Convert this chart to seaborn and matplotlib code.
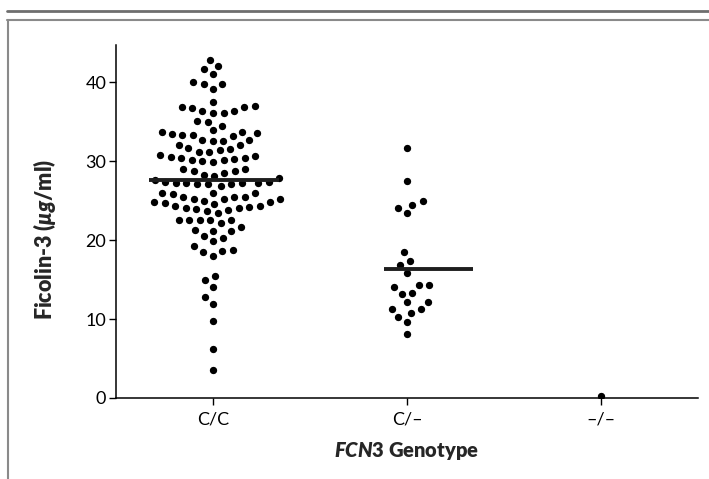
import numpy as np
import pandas as pd
import matplotlib
matplotlib.use("Agg")
import matplotlib.pyplot as plt
from matplotlib.lines import Line2D
import seaborn as sns

# ---------------- data ----------------
genotypes = ["C/C", "C/\u2013", "\u2013/\u2013"]

cc_values = [
    42.8, 42.1, 41.7, 41.0, 40.0, 39.7, 39.7, 39.1,
    37.5, 37.0, 36.9, 36.8, 36.7, 36.4, 36.3, 36.1, 36.1,
    35.1, 35.0, 34.5,
    33.9, 33.7, 33.7, 33.5, 33.4, 33.3, 33.3, 33.2,
    32.7, 32.7, 32.6, 32.6, 32.1, 32.1,
    31.6, 31.5, 31.4, 31.2, 31.1,
    30.8, 30.7, 30.5, 30.4, 30.4, 30.3, 30.2, 30.1, 30.0, 29.9,
    29.0, 29.0, 28.8, 28.8, 28.5, 28.3, 28.1, 27.9,
    27.6, 27.4, 27.4, 27.2, 27.2, 27.2, 27.2, 27.1, 27.1, 27.1, 26.9,
    26.0, 26.0, 26.0, 25.8, 25.5, 25.5, 25.4, 25.2, 25.2, 25.2, 25.0,
    24.8, 24.8, 24.7, 24.6, 24.3, 24.3, 24.2, 24.1, 24.1, 23.9, 23.8,
    23.7, 23.4,
    22.6, 22.5, 22.5, 22.5, 22.5, 22.1, 21.7, 21.3, 21.2, 21.1,
    20.5, 20.3, 19.9, 19.2, 18.8, 18.6, 18.5, 18.0,
    15.4, 14.9, 14.0, 12.8, 11.9, 9.7, 6.2, 3.6,
]
cn_values = [
    31.6, 27.5, 24.9, 24.5, 24.1, 23.4,
    18.5, 17.4, 16.8, 15.8, 14.3, 14.3, 14.1, 13.3, 13.2,
    12.2, 12.1, 11.3, 11.3, 10.8, 10.2, 9.6, 8.1,
]
nn_values = [0.2]

medians = [27.6, 16.3]
median_extent = [(-0.33, 0.34), (-0.12, 0.34)]

y_ticks = [0, 10, 20, 30, 40]

df = pd.DataFrame({
    "genotype": [genotypes[0]] * len(cc_values)
                + [genotypes[1]] * len(cn_values)
                + [genotypes[2]] * len(nn_values),
    "value": cc_values + cn_values + nn_values,
})

# ---------------- styling ----------------
sns.set_style("white")
plt.rcParams["font.family"] = ["Lato", "DejaVu Sans"]
plt.rcParams["mathtext.fontset"] = "custom"
plt.rcParams["mathtext.it"] = "Lato:style=italic:weight=heavy"
plt.rcParams["mathtext.rm"] = "Lato:weight=heavy"
plt.rcParams["mathtext.bf"] = "Lato:weight=heavy"

fig = plt.figure(figsize=(7.09, 4.79), dpi=100)
ax = fig.add_axes([116 / 709, 1 - 398 / 479, 582 / 709, 353 / 479])

sns.swarmplot(
    data=df, x="genotype", y="value", order=genotypes,
    color="black", size=6.3, linewidth=1.0, edgecolor="white",
    ax=ax, zorder=2, warn_thresh=1.0,
)

for i, (m, (a, b)) in enumerate(zip(medians, median_extent)):
    ax.hlines(m, i + a, i + b, colors="#1e1e1e", linewidth=2.8, zorder=4)

ax.set_xlim(-0.5, 2.5)
ax.set_ylim(0, 44.7)
ax.set_yticks(y_ticks)
ax.set_yticklabels([str(t) for t in y_ticks])

for s in ["top", "right"]:
    ax.spines[s].set_visible(False)
for s in ["left", "bottom"]:
    ax.spines[s].set_linewidth(1.1)
    ax.spines[s].set_color("black")

ax.tick_params(axis="both", direction="out", length=5, width=1.0,
               colors="black", labelsize=13, left=True, bottom=True)
ax.tick_params(axis="y", pad=2)
ax.tick_params(axis="x", pad=5)

ax.set_xlabel(r"$\mathit{FCN3}$ Genotype", fontsize=14.5, fontweight="heavy")
ax.set_ylabel(r"Ficolin-3 ($\mathit{\mu g}$/ml)", fontsize=15.5, fontweight="heavy")
ax.xaxis.set_label_coords(0.5, -0.118)
ax.yaxis.set_label_coords(-0.100, 0.45)

# figure frame lines (journal style)
fig.add_artist(Line2D([7 / 709, 1], [1 - 11 / 479, 1 - 11 / 479],
                      transform=fig.transFigure, color="#6e6e6e", linewidth=2.0))
fig.add_artist(Line2D([7 / 709, 1], [1 - 20 / 479, 1 - 20 / 479],
                      transform=fig.transFigure, color="#8a8a8a", linewidth=1.5))
fig.add_artist(Line2D([8 / 709, 8 / 709], [0, 1 - 20 / 479],
                      transform=fig.transFigure, color="#8a8a8a", linewidth=1.5))

fig.savefig("out.png", dpi=100)
